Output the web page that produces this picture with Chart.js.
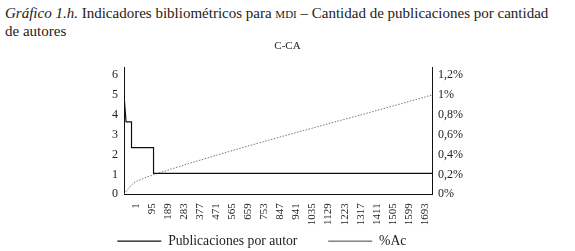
<!DOCTYPE html>
<html>
<head>
<meta charset="utf-8">
<script src="https://cdn.jsdelivr.net/npm/chart.js@4"></script>
<style>
  html, body { margin: 0; padding: 0; background: #fff; }
  body { width: 575px; height: 251px; position: relative; overflow: hidden; font-family: "Liberation Serif", "DejaVu Serif", serif; color: #222; }
  #caption { position: absolute; left: 5px; top: 4px; width: 552px; font-size: 15px; line-height: 18px; }
  #caption .sc { font-variant: small-caps; text-transform: lowercase; }
  #wrap { position: absolute; left: 0; top: 36px; width: 575px; height: 215px; }
</style>
</head>
<body>
<div id="caption"><i>Gráfico 1.h.</i> Indicadores bibliométricos para <span class="sc">MDI</span> – Cantidad de publicaciones por cantidad de autores</div>
<div id="wrap"><canvas id="chart"></canvas></div>
<script>
// ranking position of each author (x) and publications per author
const authorRank = [1, 13, 45, 45, 174, 174, 1805];
const pubsPerAuthor = [5, 3.65, 3.65, 2.35, 2.35, 1.05, 1.05];
// accumulated percentage
const accRank = [1, 19, 56, 115, 174, 1805];
const accPct = [0, 0.04, 0.11, 0.16, 0.197, 1.0];
// tick labels
const xTickLabels = [1, 95, 189, 283, 377, 471, 565, 659, 753, 847, 941, 1035, 1129, 1223, 1317, 1411, 1505, 1599, 1693];
const yTicks = [0, 1, 2, 3, 4, 5, 6];
const pctTicks = [0, 0.2, 0.4, 0.6, 0.8, 1.0, 1.2];

const serif = "'Liberation Serif', 'DejaVu Serif', serif";

const toPoints = (xs, ys) => xs.map((x, i) => ({ x: x, y: ys[i] }));
const fixedTicks = (values) => (scale) => {
  scale.ticks = values.map((v) => ({ value: v }));
};

const ctx = document.getElementById("chart").getContext("2d");
new Chart(ctx, {
  type: "line",
  data: {
    datasets: [
      {
        label: "Publicaciones por autor",
        data: toPoints(authorRank, pubsPerAuthor),
        borderColor: "#111",
        backgroundColor: "#111",
        borderWidth: 1.2,
        pointRadius: 0,
        yAxisID: "y",
      },
      {
        label: "%Ac",
        data: toPoints(accRank, accPct),
        borderColor: "#777",
        backgroundColor: "#777",
        borderWidth: 1,
        borderDash: [1.5, 1.5],
        pointRadius: 0,
        cubicInterpolationMode: "monotone",
        yAxisID: "y2",
      },
    ],
  },
  options: {
    responsive: true,
    maintainAspectRatio: false,
    animation: false,
    layout: { padding: { left: 106, right: 106, top: 0, bottom: -7 } },
    plugins: {
      title: {
        display: true,
        text: "C-CA",
        color: "#222",
        font: { family: serif, size: 11, weight: "normal" },
        padding: { top: 4, bottom: 14 },
      },
      legend: {
        position: "bottom",
        labels: {
          usePointStyle: true,
          pointStyle: "line",
          pointStyleWidth: 44,
          color: "#222",
          padding: 0,
          font: { family: serif, size: 13.7 },
          generateLabels: (chart) => {
            const items = Chart.defaults.plugins.legend.labels.generateLabels(chart);
            items[0].text = items[0].text + "\u00a0".repeat(9);
            items[1].text = items[1].text + "\u00a0".repeat(15);
            items[1].strokeStyle = "#444";
            return items;
          },
        },
      },
      tooltip: { enabled: false },
    },
    scales: {
      x: {
        type: "linear",
        min: 1,
        max: 1805,
        grid: { display: false, drawTicks: false },
        border: { color: "#111", width: 1 },
        afterBuildTicks: fixedTicks(xTickLabels),
        ticks: {
          autoSkip: false,
          minRotation: 90,
          maxRotation: 90,
          labelOffset: 12,
          padding: 9,
          color: "#222",
          font: { family: serif, size: 11 },
          callback: (v) => String(v),
        },
      },
      y: {
        position: "left",
        min: 0,
        max: 6.4,
        grid: { display: false, drawTicks: false },
        border: { color: "#111", width: 1 },
        afterBuildTicks: fixedTicks(yTicks),
        ticks: {
          autoSkip: false,
          padding: 6,
          color: "#222",
          font: { family: serif, size: 12 },
        },
      },
      y2: {
        position: "right",
        min: 0,
        max: 1.28,
        grid: { display: false, drawTicks: false },
        border: { color: "#111", width: 1 },
        afterBuildTicks: fixedTicks(pctTicks),
        ticks: {
          autoSkip: false,
          padding: 6,
          color: "#222",
          font: { family: serif, size: 12 },
          callback: (v) => String(Math.round(v * 10) / 10).replace(".", ",") + "%",
        },
      },
    },
  },
});
</script>
</body>
</html>
